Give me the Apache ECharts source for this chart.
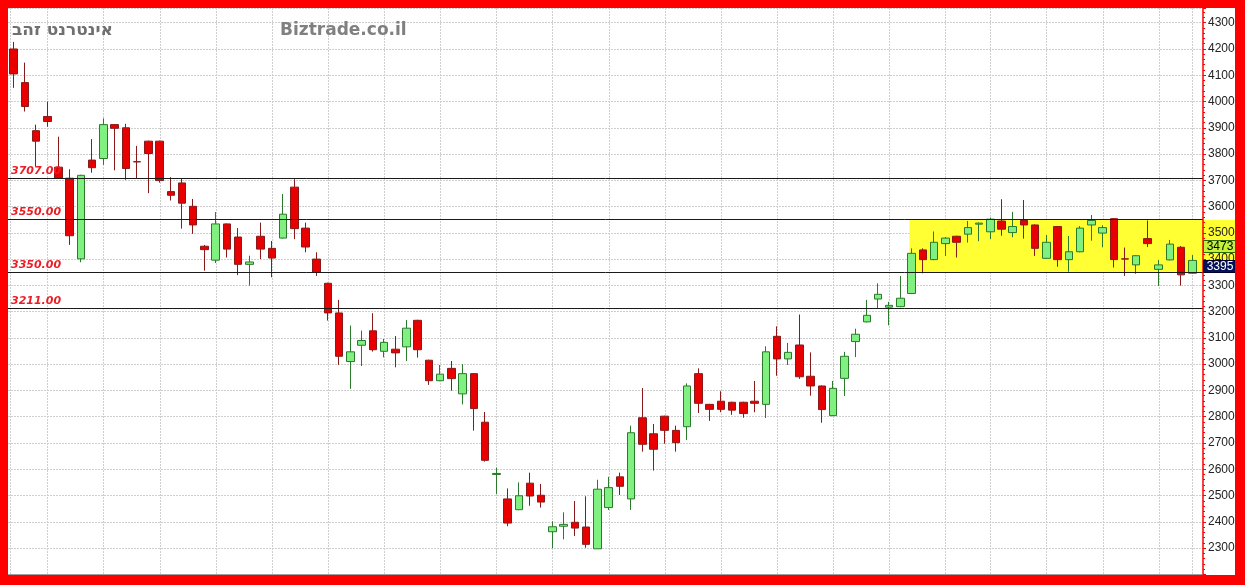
<!DOCTYPE html>
<html><head><meta charset="utf-8">
<script src="https://cdn.jsdelivr.net/npm/echarts@6/dist/echarts.min.js"></script>
<style>html,body{margin:0;padding:0;background:#fff}#c{width:1245px;height:585px}</style>
</head><body><div id="c"></div><script>
const titleText = 'אינטרנט זהב';
const siteText = 'Biztrade.co.il';
const openVals  = [4200,4072,3889,3943,3750,3708,3401,3777,3783,3912,3900,3771,3849,3849,3657,3690,3601,3449,3396,3534,3484,3380,3487,3441,3480,3674,3518,3400,3308,3195,3010,3072,3127,3049,3057,3066,3167,3015,2937,2984,2887,2964,2779,2580,2487,2446,2547,2501,2362,2383,2398,2380,2297,2454,2571,2487,2796,2735,2802,2748,2762,2964,2847,2859,2855,2855,2859,2847,3106,3020,3073,2954,2917,2804,2946,3086,3161,3248,3217,3219,3269,3435,3398,3459,3487,3495,3533,3504,3545,3501,3547,3530,3403,3524,3398,3428,3530,3499,3554,3401,3378,3478,3361,3397,3445,3346];
const closeVals = [4105,3981,3849,3924,3708,3489,3719,3748,3912,3898,3745,3770,3802,3699,3643,3613,3530,3436,3534,3438,3380,3389,3438,3404,3571,3516,3446,3349,3195,3030,3047,3090,3055,3083,3043,3137,3055,2937,2962,2945,2964,2831,2634,2584,2395,2499,2498,2475,2381,2390,2376,2314,2524,2530,2535,2739,2695,2676,2748,2701,2917,2851,2828,2828,2825,2812,2851,3047,3020,3045,2952,2917,2827,2908,3030,3114,3186,3266,3224,3251,3422,3398,3464,3480,3464,3520,3537,3552,3514,3524,3530,3441,3464,3398,3428,3518,3547,3520,3398,3400,3413,3459,3378,3457,3340,3395];
const lowVals   = [4052,3962,3752,3904,3708,3454,3388,3729,3759,3738,3702,3705,3651,3691,3623,3516,3496,3356,3385,3406,3339,3299,3400,3331,3478,3476,3426,3336,3166,2997,2906,2993,3048,3026,2988,3012,3025,2921,2935,2899,2847,2747,2629,2506,2383,2444,2461,2454,2299,2333,2346,2301,2297,2445,2502,2445,2667,2595,2697,2667,2711,2814,2784,2817,2807,2796,2817,2795,2956,2997,2944,2880,2777,2802,2879,3027,3159,3214,3148,3217,3267,3346,3396,3412,3406,3463,3468,3476,3489,3483,3478,3412,3401,3371,3352,3426,3470,3445,3368,3336,3344,3446,3298,3395,3299,3344];
const highVals  = [4227,4148,3912,4000,3866,3742,3721,3857,3936,3914,3915,3831,3851,3851,3712,3708,3629,3454,3579,3536,3518,3413,3539,3469,3648,3704,3539,3426,3310,3245,3147,3128,3194,3096,3107,3168,3169,3017,2997,3012,3000,2966,2818,2606,2527,2550,2587,2544,2402,2436,2479,2497,2560,2571,2587,2766,2909,2772,2804,2766,2927,2984,2849,2897,2857,2857,2936,3068,3144,3081,3189,3045,2919,2936,3047,3135,3245,3308,3237,3336,3441,3441,3505,3484,3489,3545,3539,3558,3628,3580,3625,3532,3492,3526,3488,3526,3568,3529,3556,3444,3415,3547,3397,3473,3450,3416];
const weekLines = [-0.28,3,8,13,18,23,28,33,38,43,48,53,58,63,68,73,78,83,87,92,97,102,105];
const levels = [3707, 3550, 3350, 3211, 2317];
const levelLabels = ['3707.00', '3550.00', '3350.00', '3211.00', '2317.00'];
const levelLineShown = [true, true, true, true, false];
const zone = [79.8, 3550, 3350];
const lastValues = [3473, 3395];
const lastLabels = ['3473', '3395'];
const yMin = 2200, yMax = 4356, yStep = 100;

const candles = openVals.map((o, i) => [i, o, closeVals[i], lowVals[i], highVals[i]]);
const boxFill = ['#c4f23c', '#06125a'];
const boxStroke = ['#2f6b00', '#000030'];
const boxText = ['#000', '#fff'];

const chart = echarts.init(document.getElementById('c'), null, {renderer: 'canvas'});
const yBase = {type: 'value', position: 'right', min: yMin, max: yMax, interval: yStep, scale: false};
chart.setOption({
  backgroundColor: '#ffffff',
  animation: false,
  grid: {left: 8, right: 42, top: 8, bottom: 10.7, containLabel: false},
  xAxis: {
    type: 'value', min: -0.5, max: 105.95,
    axisLine: {show: true, onZero: false, lineStyle: {color: '#a0a0a0', width: 2}},
    axisTick: {show: false}, axisLabel: {show: false}, splitLine: {show: false}
  },
  yAxis: [
    Object.assign({}, yBase, {
      z: 0,
      axisLine: {show: false}, axisTick: {show: false}, axisLabel: {show: false},
      splitLine: {show: true, lineStyle: {color: '#cfcfcf', width: 1, type: [2, 1]}}
    }),
    Object.assign({}, yBase, {
      z: 5,
      axisLine: {show: true, lineStyle: {color: '#ff0000', width: 1.5}},
      axisTick: {show: true, inside: false, length: 3, lineStyle: {color: '#ff0000'}},
      minorTick: {show: true, splitNumber: 5, length: 2, lineStyle: {color: '#ff0000'}},
      axisLabel: {show: true, showMinLabel: false, showMaxLabel: false, margin: 5, color: '#222',
        fontFamily: 'Liberation Sans', fontSize: 12, formatter: v => String(v)},
      splitLine: {show: false}
    })
  ],
  graphic: [
    {type: 'text', left: 12, top: 22, z: 20, style: {text: titleText, fill: '#707070', font: 'bold 17px "DejaVu Sans"'}},
    {type: 'text', left: 280, top: 22, z: 20, style: {text: siteText, fill: '#808080', font: 'bold 17px "DejaVu Sans"'}},
    {type: 'rect', z: 100, shape: {x: 0, y: 0, width: 1245, height: 8}, style: {fill: '#ff0000'}},
    {type: 'rect', z: 100, shape: {x: 0, y: 0, width: 8, height: 585}, style: {fill: '#ff0000'}},
    {type: 'rect', z: 100, shape: {x: 1235, y: 0, width: 10, height: 585}, style: {fill: '#ff0000'}},
    {type: 'rect', z: 100, shape: {x: 0, y: 575, width: 1245, height: 10}, style: {fill: '#ff0000'}}
  ],
  series: [
    {
      type: 'custom', z: 0, silent: true, clip: true,
      data: weekLines.map(v => [v, yMin]),
      encode: {x: 0, y: 1},
      renderItem: (params, api) => {
        const x = Math.round(api.coord([api.value(0), api.value(1)])[0]) + 0.5;
        const cs = params.coordSys;
        return {type: 'line', shape: {x1: x, y1: cs.y, x2: x, y2: cs.y + cs.height},
          style: {stroke: '#cfcfcf', lineWidth: 1, lineDash: [2, 1]}};
      }
    },
    {
      type: 'custom', z: 1, silent: true, clip: false,
      data: [zone],
      encode: {x: 0, y: [1, 2]},
      renderItem: (params, api) => {
        const p1 = api.coord([api.value(0), api.value(1)]);
        const p2 = api.coord([api.value(0), api.value(2)]);
        const cs = params.coordSys;
        const right = cs.x + cs.width + 32;
        return {type: 'rect', shape: {x: p1[0], y: p1[1], width: right - p1[0], height: p2[1] - p1[1]},
          style: {fill: '#ffff33'}};
      }
    },
    {
      type: 'candlestick', z: 3, barWidth: 8,
      data: candles,
      encode: {x: 0, y: [1, 2, 3, 4]},
      itemStyle: {color: '#80f080', color0: '#e80000', borderColor: '#2b7a2b', borderColor0: '#8a1a1a', borderWidth: 1},
      markLine: {
        silent: true, symbol: 'none', animation: false,
        data: levels.map((v, i) => ({
          yAxis: v,
          lineStyle: {color: '#1a1a1a', width: 1, type: 'solid', opacity: levelLineShown[i] ? 1 : 0},
          label: {show: true, formatter: levelLabels[i], position: 'insideStartTop', distance: [3, 2],
            color: '#ec1c24', fontFamily: 'DejaVu Sans', fontWeight: 'bold', fontStyle: 'italic', fontSize: 11}
        }))
      }
    },
    {
      type: 'custom', z: 10, silent: true, clip: false,
      data: lastValues.map(v => [105, v]),
      encode: {x: 0, y: 1},
      renderItem: (params, api) => {
        const p = api.coord([api.value(0), api.value(1)]);
        const cs = params.coordSys;
        const x0 = cs.x + cs.width;
        const i = params.dataIndex;
        return {type: 'group', children: [
          {type: 'rect', shape: {x: x0 + 0.5, y: Math.round(p[1]) + 0.5, width: 32, height: 12},
            style: {fill: boxFill[i], stroke: boxStroke[i], lineWidth: 1}},
          {type: 'text', style: {text: lastLabels[i], x: x0 + 17, y: Math.round(p[1]) + 7, align: 'center', verticalAlign: 'middle',
            fill: boxText[i], font: '12px "Liberation Sans"'}}
        ]};
      }
    }
  ]
});
</script></body></html>
